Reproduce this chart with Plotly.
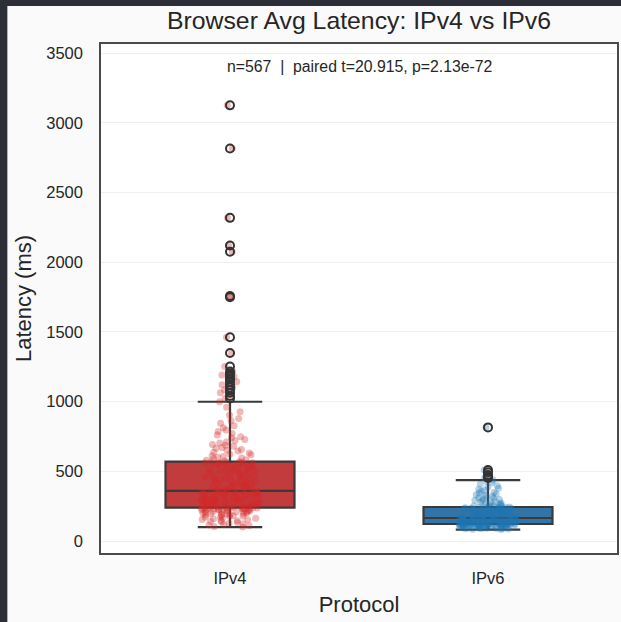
import plotly.graph_objects as go

# ---------------- data ----------------
categories = ["IPv4", "IPv6"]

ipv4_stats = dict(q1=239, median=359, q3=569, lowerfence=100, upperfence=999)
ipv6_stats = dict(q1=122, median=165, q3=244, lowerfence=82, upperfence=437)

ipv4_values = [
    100, 104, 109, 115, 118, 124, 128, 133, 137, 141, 146, 148, 152, 155, 159, 163, 165, 170,
    172, 176, 178, 181, 184, 186, 189, 190, 193, 195, 197, 199, 202, 203, 206, 208, 209, 212,
    214, 215, 217, 219, 220, 222, 224, 225, 226, 228, 229, 230, 231, 232, 233, 234, 235, 236,
    236, 237, 238, 239,
    241, 244, 245, 248, 250, 251, 254, 256, 257, 260, 262, 263, 266, 268, 270, 271, 274, 276,
    278, 280, 281, 284, 286, 288, 290, 292, 294, 295, 298, 301, 303, 305, 307, 310, 312, 314,
    316, 319, 321, 323, 326, 328, 330, 333, 335, 337, 339, 342, 344, 346, 348, 350, 352, 354,
    355, 356, 357, 358,
    361, 365, 368, 372, 376, 381, 383, 388, 392, 394, 399, 403, 405, 411, 413, 419, 422, 424,
    430, 432, 438, 440, 446, 448, 452, 458, 460, 466, 468, 474, 476, 482, 486, 488, 494, 498,
    502, 506, 510, 514, 518, 522, 527, 530, 534, 538, 542, 546, 549, 553, 556, 559, 561, 563,
    565, 566, 567, 569,
    574, 579, 583, 590, 596, 600, 607, 611, 619, 623, 632, 636, 645, 651, 656, 665, 670, 679,
    687, 693, 703, 710, 721, 728, 740, 748, 761, 771, 786, 797, 813, 826, 844, 862, 879, 903,
    927, 960, 999,
    1022, 1041, 1063, 1084, 1102, 1121, 1143, 1162, 1178, 1191, 1203, 1216, 1252, 1349, 1462,
    1748, 1758, 2075, 2120, 2318, 2815, 3125,
]

ipv6_values = [
    82, 85, 86, 88, 89, 90, 92, 92, 93, 95, 95, 96, 98, 98, 99, 100, 101, 102, 102, 103, 104,
    105, 105, 106, 107, 108, 108, 109, 110, 110, 111, 112, 112, 113, 113, 114, 115, 115, 116,
    116, 117, 117, 118, 118, 119, 119, 119, 120, 120, 120, 121, 121, 121, 122, 122, 122,
    123, 124, 125, 126, 127, 128, 129, 130, 131, 132, 133, 134, 135, 135, 136, 137, 138, 139,
    140, 141, 142, 143, 144, 145, 146, 147, 148, 148, 149, 150, 151, 152, 153, 154, 155, 156,
    157, 157, 158, 159, 160, 161, 161, 162, 163, 163, 164, 164, 165,
    167, 168, 170, 172, 173, 175, 177, 178, 180, 182, 184, 185, 187, 189, 190, 192, 194, 196,
    197, 199, 201, 203, 204, 206, 208, 210, 211, 213, 215, 217, 218, 220, 222, 224, 225, 227,
    229, 231, 232, 234, 235, 237, 238, 239, 240, 241, 242, 243, 244,
    246, 249, 252, 255, 258, 262, 265, 269, 272, 276, 280, 284, 288, 293, 297, 302, 306, 311,
    316, 321, 327, 332, 338, 344, 350, 357, 364, 371, 379, 388, 397, 407, 418, 428, 437,
    452, 460, 473, 493, 509, 815,
]

annotation_text = "n=567\u00a0\u00a0|\u00a0\u00a0paired t=20.915, p=2.13e-72"

# ---------------- style ----------------
FONT = "Liberation Sans, Arial, sans-serif"
box_fill = {"IPv4": "#c23b3d", "IPv6": "#3274a8"}
pt_color = {"IPv4": "#d62728", "IPv6": "#1f77b4"}
line_col = "#3a3a3a"
TXT = "#262626"
FRAME = "#2c2f37"

fig = go.Figure()

data = {"IPv4": (ipv4_values, ipv4_stats), "IPv6": (ipv6_values, ipv6_stats)}

for cat in categories:
    vals, st = data[cat]
    fig.add_trace(go.Box(
        x=[cat], q1=[st["q1"]], median=[st["median"]], q3=[st["q3"]],
        lowerfence=[st["lowerfence"]], upperfence=[st["upperfence"]],
        fillcolor=box_fill[cat], line=dict(color=line_col, width=2.2),
        whiskerwidth=0.5, width=0.5, boxpoints=False, showlegend=False,
    ))

for cat in categories:
    vals, st = data[cat]
    fig.add_trace(go.Box(
        x=[cat] * len(vals), y=vals, boxpoints="all", jitter=0.45, pointpos=0,
        width=0.5, fillcolor="rgba(0,0,0,0)",
        line=dict(width=0, color="rgba(0,0,0,0)"),
        marker=dict(color=pt_color[cat], opacity=0.33, size=7, line=dict(width=0)),
        showlegend=False,
    ))

for cat in categories:
    vals, st = data[cat]
    outl = [v for v in vals if v > st["upperfence"] or v < st["lowerfence"]]
    fig.add_trace(go.Scatter(
        x=[cat] * len(outl), y=outl, mode="markers", showlegend=False,
        marker=dict(symbol="circle-open", size=8, color="#333333",
                    line=dict(width=2, color="#333333")),
    ))

W, H = 621, 622
L, R, T, B = 101, 2, 44, 69
pw, ph = W - L - R, H - T - B

def px_x(p):
    return (p - L) / pw

def px_y(p):
    return (H - B - p) / ph

fig.update_layout(
    width=W, height=H,
    margin=dict(l=L, r=R, t=T, b=B, pad=0),
    paper_bgcolor="#fafafa",
    plot_bgcolor="#ffffff",
    boxmode="overlay",
    font=dict(family=FONT, color=TXT),
    title=dict(text="Browser Avg Latency: IPv4 vs IPv6", x=0.5, xref="paper",
               y=1 - 20 / H, yref="container", yanchor="middle", xanchor="center",
               font=dict(size=24.8, color=TXT)),
    shapes=[
        dict(type="rect", xref="paper", yref="paper", x0=px_x(-5), x1=px_x(7),
             y0=px_y(700), y1=px_y(-5), fillcolor=FRAME, line=dict(width=0), layer="above"),
        dict(type="rect", xref="paper", yref="paper", x0=px_x(-5), x1=px_x(630),
             y0=px_y(6), y1=px_y(-5), fillcolor=FRAME, line=dict(width=0), layer="above"),
    ],
    annotations=[dict(text=annotation_text, xref="paper", yref="paper", x=0.5,
                      y=px_y(66), showarrow=False, xanchor="center", yanchor="middle",
                      font=dict(size=15.8, color=TXT))],
)

fig.update_xaxes(
    type="category", categoryorder="array", categoryarray=categories,
    range=[-0.5, 1.5], showgrid=False, zeroline=False,
    showline=True, mirror=True, linecolor="#4a4a4a", linewidth=1.5,
    ticks="", ticklabelstandoff=9, tickfont=dict(size=16.5, color=TXT),
    title=dict(text="Protocol", font=dict(size=22, color=TXT), standoff=11),
)
fig.update_yaxes(
    range=[-86, 3565], tickvals=[0, 500, 1000, 1500, 2000, 2500, 3000, 3500],
    showgrid=True, gridcolor="#efefef", gridwidth=1, zeroline=False,
    showline=True, mirror=True, linecolor="#4a4a4a", linewidth=1.5,
    ticks="", ticklabelstandoff=13, tickfont=dict(size=16.5, color=TXT),
    title=dict(text="Latency (ms)", font=dict(size=22, color=TXT), standoff=9),
)

fig.write_html(
    "out.html",
    config={"displayModeBar": False},
    post_script="document.body.style.margin='0';document.body.style.overflow='hidden';",
)
